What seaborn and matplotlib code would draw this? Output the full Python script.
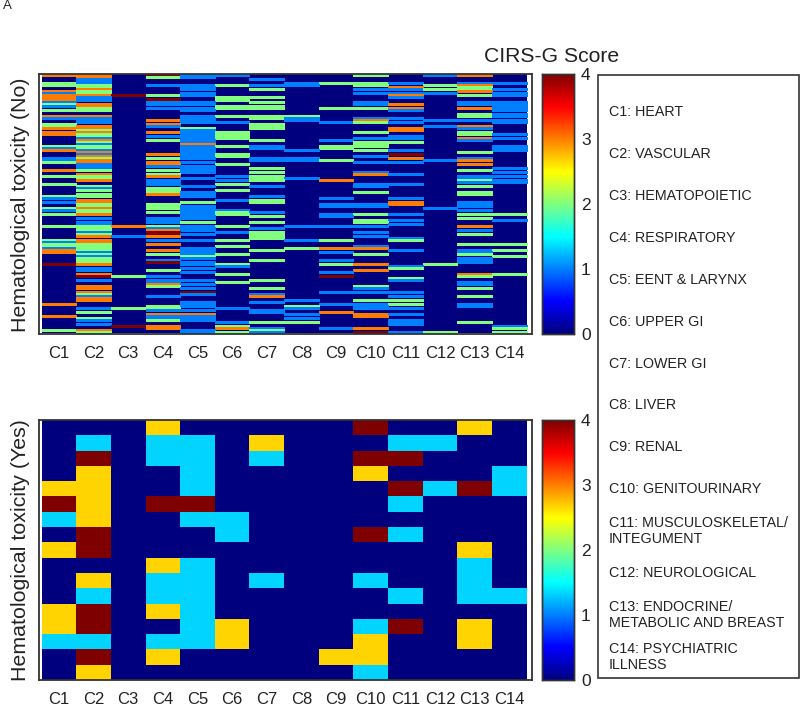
import numpy as np
import pandas as pd
import matplotlib
matplotlib.use('Agg')
import matplotlib.pyplot as plt
import seaborn as sns
from matplotlib.colors import LinearSegmentedColormap
from matplotlib.patches import Rectangle

columns = ['C1', 'C2', 'C3', 'C4', 'C5', 'C6', 'C7', 'C8', 'C9', 'C10', 'C11', 'C12', 'C13', 'C14']
n_no = 129

# no toxicity group: patient row -> score, rows left out scored 0
no_c1 = {0: 3, 4: 2, 5: 2, 8: 3, 9: 1, 10: 3, 11: 3, 12: 3, 13: 1, 14: 2, 15: 1, 17: 2, 20: 3, 21: 1, 24: 2, 25: 2, 26: 3,
         28: 3, 29: 3, 35: 2, 36: 1, 37: 3, 41: 1, 42: 1, 43: 2, 47: 3, 50: 2, 54: 2, 60: 2, 61: 1, 63: 1, 66: 2, 67: 1,
         69: 2, 75: 2, 82: 2, 83: 1, 84: 2, 85: 2, 86: 1, 87: 3, 88: 3, 94: 4, 114: 3, 120: 3, 127: 2}
no_c2 = {0: 3, 1: 3, 2: 1, 3: 1, 4: 1, 5: 2, 6: 2, 7: 3, 8: 2, 9: 2, 10: 3, 11: 1, 12: 1, 14: 3, 15: 3, 16: 2, 17: 2, 20: 3,
         21: 1, 22: 1, 23: 1, 25: 3, 26: 3, 27: 2, 28: 3, 29: 2, 30: 2, 31: 1, 32: 3, 33: 2, 34: 1, 35: 2, 36: 2, 37: 1,
         38: 3, 39: 1, 40: 3, 41: 2, 42: 3, 43: 3, 44: 1, 45: 1, 46: 1, 47: 2, 49: 3, 50: 2, 51: 2, 52: 3, 55: 2, 56: 1,
         57: 2, 59: 2, 60: 2, 62: 3, 63: 3, 64: 2, 65: 2, 66: 3, 67: 2, 68: 2, 69: 3, 71: 1, 73: 1, 74: 1, 75: 2, 76: 2,
         77: 2, 78: 1, 79: 2, 80: 3, 82: 3, 83: 3, 84: 2, 85: 2, 86: 2, 87: 2, 88: 1, 89: 2, 90: 1, 91: 2, 92: 2, 93: 2,
         94: 3, 96: 1, 97: 1, 99: 3, 100: 4, 102: 1, 105: 3, 106: 3, 108: 3, 109: 2, 110: 1, 111: 3, 112: 3, 116: 1,
         118: 2, 121: 2, 122: 1, 124: 1, 127: 3, 128: 2}
no_c3 = {10: 4, 75: 3, 80: 1, 100: 2, 116: 2, 125: 4}
no_c4 = {0: 4, 1: 2, 5: 1, 10: 2, 12: 4, 13: 1, 14: 1, 16: 1, 22: 3, 24: 3, 25: 1, 28: 3, 30: 1, 32: 2, 39: 3, 41: 2, 43: 3,
         44: 3, 45: 1, 47: 2, 49: 2, 50: 3, 52: 1, 53: 1, 54: 1, 56: 2, 57: 2, 58: 2, 59: 3, 64: 2, 65: 2, 66: 2, 68: 2,
         71: 1, 72: 1, 73: 1, 75: 2, 76: 1, 77: 3, 78: 4, 79: 4, 80: 3, 82: 1, 84: 3, 87: 3, 89: 2, 92: 1, 93: 4, 97: 2,
         100: 1, 102: 1, 103: 1, 104: 3, 105: 2, 110: 1, 115: 2, 116: 2, 117: 1, 119: 3, 120: 1, 121: 1, 122: 2, 125: 3,
         126: 3}
no_c5 = {0: 1, 1: 1, 5: 1, 6: 1, 7: 1, 9: 1, 10: 1, 13: 1, 14: 1, 16: 1, 17: 1, 20: 1, 21: 1, 22: 1, 23: 1, 26: 2, 27: 1,
         28: 1, 29: 1, 30: 1, 31: 1, 32: 1, 33: 1, 34: 3, 35: 1, 36: 1, 37: 1, 38: 1, 39: 1, 40: 1, 41: 1, 43: 1, 45: 1,
         46: 1, 47: 1, 48: 1, 51: 1, 55: 1, 58: 1, 59: 1, 60: 1, 63: 2, 65: 1, 66: 1, 67: 1, 68: 1, 69: 1, 70: 1, 71: 1,
         73: 2, 75: 1, 76: 1, 77: 1, 79: 1, 82: 1, 86: 1, 87: 1, 88: 1, 89: 1, 90: 2, 91: 1, 93: 1, 94: 1, 96: 1, 98: 1,
         102: 1, 104: 1, 106: 1, 108: 4, 109: 1, 113: 1, 114: 1, 115: 1, 117: 1, 119: 3, 120: 1, 121: 1, 122: 1, 127: 1,
         128: 1}
no_c6 = {0: 1, 5: 2, 11: 2, 12: 2, 15: 2, 16: 2, 20: 2, 23: 1, 28: 2, 29: 2, 30: 2, 31: 2, 35: 2, 39: 2, 40: 2, 44: 2, 50: 1,
         52: 1, 54: 2, 57: 2, 62: 1, 67: 1, 68: 2, 69: 2, 75: 2, 78: 1, 82: 2, 85: 2, 89: 2, 94: 2, 95: 1, 99: 2, 103: 2,
         116: 1, 123: 1, 125: 2, 126: 3, 128: 2}
no_c7 = {2: 1, 5: 1, 7: 2, 11: 2, 13: 2, 15: 2, 16: 2, 20: 2, 21: 2, 24: 2, 25: 2, 26: 2, 32: 2, 35: 1, 36: 1, 41: 1, 42: 1,
         46: 2, 48: 2, 50: 2, 51: 2, 52: 2, 55: 1, 60: 1, 62: 2, 63: 2, 68: 1, 70: 2, 73: 2, 76: 1, 78: 2, 79: 2, 80: 2,
         81: 2, 87: 2, 92: 2, 102: 2, 106: 2, 109: 1, 110: 3, 113: 1, 117: 1, 118: 1, 123: 2, 126: 1, 127: 2, 128: 1}
no_c8 = {4: 1, 5: 1, 20: 2, 21: 1, 22: 1, 37: 1, 41: 1, 42: 1, 51: 1, 75: 1, 82: 1, 86: 2, 112: 1, 115: 2, 116: 1, 119: 1,
         121: 1, 123: 2}
no_c9 = {4: 2, 16: 2, 23: 1, 32: 1, 35: 2, 36: 2, 42: 2, 52: 3, 61: 1, 64: 1, 65: 1, 69: 1, 70: 1, 75: 1, 82: 2, 86: 3, 88: 1,
         92: 1, 94: 2, 98: 1, 100: 4, 108: 1, 114: 1, 118: 3, 126: 1}
no_c10 = {0: 2, 4: 2, 5: 2, 7: 1, 9: 1, 13: 1, 14: 1, 16: 2, 21: 1, 22: 3, 23: 2, 28: 2, 31: 1, 33: 2, 34: 2, 35: 2, 37: 2,
          40: 1, 43: 1, 48: 1, 49: 3, 54: 1, 55: 1, 58: 2, 64: 1, 65: 1, 69: 2, 72: 2, 73: 2, 75: 1, 78: 1, 80: 1, 85: 1,
          86: 3, 89: 2, 94: 3, 97: 3, 105: 2, 106: 1, 108: 1, 112: 2, 114: 1, 115: 1, 116: 1, 119: 3, 120: 3, 126: 3,
          128: 4}
no_c11 = {4: 1, 6: 3, 7: 1, 9: 1, 10: 3, 11: 1, 14: 3, 16: 3, 17: 1, 21: 1, 23: 1, 26: 3, 27: 3, 30: 1, 31: 1, 33: 2, 37: 1,
          39: 4, 41: 3, 43: 1, 49: 1, 54: 1, 61: 1, 63: 3, 64: 3, 69: 1, 72: 1, 74: 1, 81: 1, 82: 2, 87: 1, 95: 1, 96: 2,
          101: 2, 102: 1, 108: 1, 110: 1, 112: 2, 114: 2, 116: 1, 119: 1, 122: 1, 123: 1, 124: 1, 128: 1}
no_c12 = {0: 1, 5: 2, 7: 2, 9: 1, 22: 1, 25: 1, 42: 1, 66: 1, 94: 2, 128: 2}
no_c13 = {0: 3, 4: 1, 5: 3, 6: 2, 7: 2, 8: 3, 10: 2, 13: 1, 14: 1, 16: 3, 19: 2, 20: 2, 22: 1, 25: 3, 26: 1, 28: 2, 29: 2,
          31: 3, 32: 1, 38: 2, 41: 1, 42: 3, 44: 3, 47: 2, 50: 1, 51: 1, 52: 2, 53: 1, 55: 2, 58: 2, 59: 2, 63: 1, 64: 1,
          65: 1, 67: 1, 69: 2, 71: 2, 75: 3, 77: 1, 79: 2, 84: 2, 87: 1, 88: 1, 89: 2, 91: 1, 92: 1, 93: 1, 99: 3, 100: 2,
          103: 1, 104: 1, 106: 2, 110: 2, 114: 1, 115: 1, 123: 2}
no_c14 = {4: 1, 7: 1, 9: 1, 10: 1, 13: 1, 14: 1, 15: 1, 16: 1, 17: 1, 19: 1, 20: 1, 22: 1, 23: 1, 29: 1, 31: 1, 35: 1, 36: 1,
          37: 1, 46: 1, 48: 1, 50: 1, 52: 1, 53: 1, 69: 2, 72: 1, 84: 2, 87: 2, 90: 2, 99: 2, 125: 1, 126: 2, 128: 2}

# toxicity group: one list per patient, scores 0 to 3
yes_rows = [
    [0, 0, 0, 2, 0, 0, 0, 0, 0, 3, 0, 0, 2, 0],
    [0, 1, 0, 1, 1, 0, 2, 0, 0, 0, 1, 1, 0, 0],
    [0, 3, 0, 1, 1, 0, 1, 0, 0, 3, 3, 0, 0, 0],
    [0, 2, 0, 0, 1, 0, 0, 0, 0, 2, 0, 0, 0, 1],
    [2, 2, 0, 0, 1, 0, 0, 0, 0, 0, 3, 1, 3, 1],
    [3, 2, 0, 3, 3, 0, 0, 0, 0, 0, 1, 0, 0, 0],
    [1, 2, 0, 0, 1, 1, 0, 0, 0, 0, 0, 0, 0, 0],
    [0, 3, 0, 0, 0, 1, 0, 0, 0, 3, 1, 0, 0, 0],
    [2, 3, 0, 0, 0, 0, 0, 0, 0, 0, 0, 0, 2, 0],
    [0, 0, 0, 2, 1, 0, 0, 0, 0, 0, 0, 0, 1, 0],
    [0, 2, 0, 1, 1, 0, 1, 0, 0, 1, 0, 0, 1, 0],
    [0, 1, 0, 1, 1, 0, 0, 0, 0, 0, 1, 0, 1, 1],
    [2, 3, 0, 2, 1, 0, 0, 0, 0, 0, 0, 0, 0, 0],
    [2, 3, 0, 0, 1, 2, 0, 0, 0, 1, 3, 0, 2, 0],
    [1, 1, 0, 1, 1, 2, 0, 0, 0, 2, 0, 0, 2, 0],
    [0, 3, 0, 2, 0, 0, 0, 0, 2, 2, 0, 0, 0, 0],
    [0, 2, 0, 0, 0, 0, 0, 0, 0, 1, 0, 0, 0, 0],
]

legend_labels = ['C1: HEART', 'C2: VASCULAR', 'C3: HEMATOPOIETIC', 'C4: RESPIRATORY', 'C5: EENT & LARYNX', 'C6: UPPER GI',
                 'C7: LOWER GI', 'C8: LIVER', 'C9: RENAL', 'C10: GENITOURINARY', 'C11: MUSCULOSKELETAL/\nINTEGUMENT',
                 'C12: NEUROLOGICAL', 'C13: ENDOCRINE/\nMETABOLIC AND BREAST', 'C14: PSYCHIATRIC\nILLNESS']
legend_y = [112, 154, 196, 238, 280, 322, 364, 405, 447, 489, 531, 573, 615, 657]

no_cols = [no_c1, no_c2, no_c3, no_c4, no_c5, no_c6, no_c7, no_c8, no_c9, no_c10, no_c11, no_c12, no_c13, no_c14]
no_df = pd.DataFrame(0, index=range(n_no), columns=columns, dtype=float)
for name, col in zip(columns, no_cols):
    for row, score in col.items():
        no_df.loc[row, name] = score

# the yes panel is stretched to the full colour range
yes_df = pd.DataFrame(yes_rows, columns=columns, dtype=float) * 4 / 3

jet = LinearSegmentedColormap.from_list(
    'jet8', ['#00007F', '#0000FF', '#007FFF', '#00FFFF', '#7FFF7F', '#FFFF00', '#FF7F00', '#FF0000', '#7F0000'])

sns.set_theme(style='white')
plt.rcParams['font.family'] = ['Liberation Sans', 'DejaVu Sans']

W, H = 800, 706
fig = plt.figure(figsize=(W / 100, H / 100), dpi=100)


def px_axes(x0, y0, x1, y1):
    return fig.add_axes([x0 / W, 1 - y1 / H, (x1 - x0) / W, (y1 - y0) / H])


def draw_panel(df, y0, y1, ylabel, ylabel_y, pad, widen=0):
    ax = px_axes(38.5, y0, 531.5, y1)
    cax = px_axes(542, y0, 574, y1)
    sns.heatmap(df, ax=ax, cbar_ax=cax, cmap=jet, vmin=0, vmax=4, xticklabels=columns, yticklabels=False)
    if widen:
        # thin stripes read about a pixel wider in the original
        sns.heatmap(df, ax=ax, mask=df == 0, cbar=False, cmap=jet, vmin=0, vmax=4, linewidths=widen, linecolor='face',
                    xticklabels=columns, yticklabels=False)
        ax.set_ylim(len(df) + 0.3, -0.2)
    ax.set_xlim(-0.09, 14.14)
    ax.set_ylabel('')
    ax.set_xlabel('')
    ax.tick_params(axis='x', length=0, pad=pad, labelsize=12, labelrotation=0, colors='#222222')
    for s in ax.spines.values():
        s.set_visible(True)
        s.set_color('#333333')
        s.set_linewidth(1.3)
    cax.tick_params(length=0, pad=5, labelsize=12.5, colors='#222222')
    cax.set_yticks([0, 1, 2, 3, 4])
    for s in cax.spines.values():
        s.set_visible(True)
        s.set_color('#333333')
        s.set_linewidth(1)
    fig.text(21 / W, 1 - ylabel_y / H, ylabel, rotation=90, ha='center', va='center', fontsize=15.4, color='#222222')


draw_panel(no_df, 74, 334, 'Hematological toxicity (No)', 205, 9, widen=0.7)
draw_panel(yes_df, 420, 680, 'Hematological toxicity (Yes)', 550, 8.5)

fig.text(3 / W, 1 - 6 / H, 'A', ha='left', va='center', fontsize=9.5, color='#222222')
fig.text(551.5 / W, 1 - 56 / H, 'CIRS-G Score', ha='center', va='center', fontsize=15.2, color='#222222')

fig.add_artist(Rectangle((598 / W, 1 - 678 / H), 201 / W, 603 / H, transform=fig.transFigure, fill=False,
                         edgecolor='#333333', linewidth=1.2))
for label, y in zip(legend_labels, legend_y):
    fig.text(609 / W, 1 - y / H, label, ha='left', va='center', fontsize=10.3, color='#222222', linespacing=1.22)

fig.savefig('out.png', dpi=100)
